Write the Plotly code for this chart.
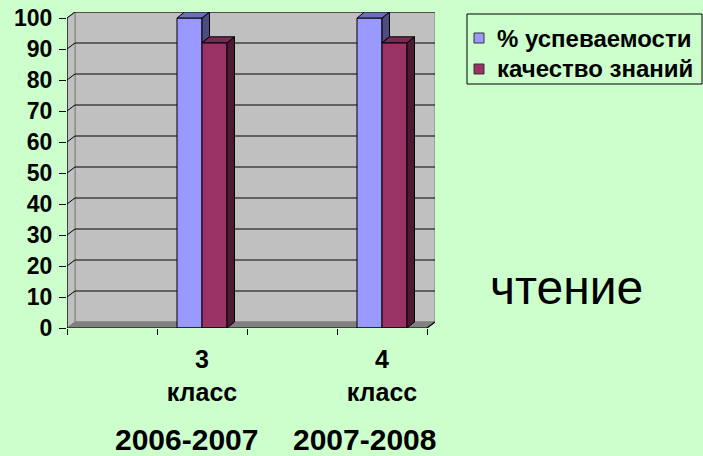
import plotly.graph_objects as go

# ---------------- data ----------------
categories = ["", "3<br>класс", "", "4<br>класс"]
uspevaemost = [None, 100, None, 100]
kachestvo = [None, 92, None, 92]
series_names = ["% успеваемости", "качество знаний"]
y_ticks = [0, 10, 20, 30, 40, 50, 60, 70, 80, 90, 100]
years = ["2006-2007", "2007-2008"]
subject = "чтение"

# ---------------- styling / geometry ----------------
W, H = 703, 456
ML, MT = 67, 12
PLOT_R, PLOT_B = 435, 328
PX_PER_CAT = 90.0
PX_PER_UNIT = 3.1
WALL_DX_PX, WALL_DY_PX = 8, 6
BAR_DX_PX, BAR_DY_PX = 7.5, 6
BAR_W_PX = 25

BG = "#CCFFCC"
WALL = "#C0C0C0"
FLOOR = "#808080"
BLUE, BLUE_TOP, BLUE_SIDE = "#9999FF", "#6B70B8", "#4D4D80"
RED, RED_TOP, RED_SIDE = "#993366", "#7A2952", "#4D1A33"
series_colors = [BLUE, RED]
FONT = "Liberation Sans, Arial, sans-serif"

wdx = WALL_DX_PX / PX_PER_CAT
wdy = WALL_DY_PX / PX_PER_UNIT
bdx = BAR_DX_PX / PX_PER_CAT
bdy = BAR_DY_PX / PX_PER_UNIT
bw = BAR_W_PX / PX_PER_CAT
n = len(categories)
x0a, x1a = -0.5, n - 0.5
ymax = max(y_ticks)

plot_w = PLOT_R - ML
plot_h = PLOT_B - MT


def px_to_paper_x(px):
    return (px - ML) / plot_w


def px_to_paper_y(py):
    return (PLOT_B - py) / plot_h


fig = go.Figure()

xs = list(range(n))
fig.add_trace(go.Bar(x=xs, y=uspevaemost, width=bw, offset=-bw, name=series_names[0],
                     showlegend=False,
                     marker=dict(color=BLUE, line=dict(color="#000000", width=1))))
fig.add_trace(go.Bar(x=xs, y=kachestvo, width=bw, offset=0, name=series_names[1],
                     showlegend=False,
                     marker=dict(color=RED, line=dict(color="#000000", width=1))))


def faces(values, offset, clip_values=None):
    tops_x, tops_y, sides_x, sides_y = [], [], [], []
    for i, v in enumerate(values):
        if v is None:
            continue
        xl = i + offset
        xr = xl + bw
        tops_x += [xl, xl + bdx, xr + bdx, xr, xl, None]
        tops_y += [v, v + bdy, v + bdy, v, v, None]
        lo = 0
        if clip_values is not None and clip_values[i] is not None:
            lo = min(clip_values[i], v)
        sides_x += [xr, xr, xr + bdx, xr + bdx, xr, None]
        sides_y += [v, lo, lo + bdy, v + bdy, v, None]
    return tops_x, tops_y, sides_x, sides_y


for vals, off, clip, ctop, cside in [
    (uspevaemost, -bw, kachestvo, BLUE_TOP, BLUE_SIDE),
    (kachestvo, 0, None, RED_TOP, RED_SIDE),
]:
    tx, ty, sx, sy = faces(vals, off, clip)
    fig.add_trace(go.Scatter(x=sx, y=sy, mode="lines", fill="toself", fillcolor=cside,
                             line=dict(color="#000000", width=1), showlegend=False,
                             hoverinfo="skip"))
    fig.add_trace(go.Scatter(x=tx, y=ty, mode="lines", fill="toself", fillcolor=ctop,
                             line=dict(color="#000000", width=1), showlegend=False,
                             hoverinfo="skip"))

shapes = []
# back wall
shapes.append(dict(type="rect", xref="x", yref="y", x0=x0a + wdx, x1=x1a + wdx, y0=wdy, y1=ymax + wdy,
                   fillcolor=WALL, line=dict(color="#808080", width=1), layer="below"))
# left wall
shapes.append(dict(type="path", xref="x", yref="y",
                   path=f"M {x0a},0 L {x0a + wdx},{wdy} L {x0a + wdx},{ymax + wdy} L {x0a},{ymax} Z",
                   fillcolor=WALL, line=dict(color="#808080", width=1), layer="below"))
# floor
shapes.append(dict(type="path", xref="x", yref="y",
                   path=f"M {x0a},0 L {x1a},0 L {x1a + wdx},{wdy} L {x0a + wdx},{wdy} Z",
                   fillcolor=FLOOR, line=dict(color="#808080", width=1), layer="below"))
# gridlines
for v in y_ticks[1:]:
    shapes.append(dict(type="path", xref="x", yref="y",
                       path=f"M {x0a},{v} L {x0a + wdx},{v + wdy} L {x1a + wdx},{v + wdy}",
                       line=dict(color="#000000", width=1), layer="below"))
# axis lines
shapes.append(dict(type="line", xref="x", yref="y", x0=x0a, x1=x0a, y0=0, y1=ymax,
                   line=dict(color="#000000", width=1.2), layer="above"))
shapes.append(dict(type="path", xref="x", yref="y",
                   path=f"M {x0a},0 L {x1a},0 L {x1a + wdx},{wdy}",
                   line=dict(color="#000000", width=1.2), layer="above"))

annotations = []

# ---- manual legend (box, swatches, text) ----
LEG_X0, LEG_X1, LEG_Y0, LEG_Y1 = 467, 702, 14, 84
shapes.append(dict(type="rect", xref="paper", yref="paper",
                   x0=px_to_paper_x(LEG_X0), x1=px_to_paper_x(LEG_X1),
                   y0=px_to_paper_y(LEG_Y1), y1=px_to_paper_y(LEG_Y0),
                   fillcolor=BG, line=dict(color="#000000", width=1), layer="above"))
row_centers = [38, 69]
for name, col, yc in zip(series_names, series_colors, row_centers):
    shapes.append(dict(type="rect", xref="paper", yref="paper",
                       x0=px_to_paper_x(474), x1=px_to_paper_x(484),
                       y0=px_to_paper_y(yc + 5), y1=px_to_paper_y(yc - 5),
                       fillcolor=col, line=dict(color="#333333", width=1), layer="above"))
    annotations.append(dict(text=name, xref="paper", yref="paper", x=px_to_paper_x(495),
                            y=px_to_paper_y(yc), xanchor="left", yanchor="middle",
                            showarrow=False,
                            font=dict(family=FONT, size=24, color="#000000", weight="bold")))

year_px = [186, 364]
for yr, xp in zip(years, year_px):
    annotations.append(dict(text=yr, xref="paper", yref="paper", x=px_to_paper_x(xp),
                            y=px_to_paper_y(439), xanchor="center", yanchor="middle",
                            showarrow=False, font=dict(family=FONT, size=30, color="#000000",
                                                       weight="bold")))
annotations.append(dict(text=subject, xref="paper", yref="paper", x=px_to_paper_x(566),
                        y=px_to_paper_y(287), xanchor="center", yanchor="middle",
                        showarrow=False, font=dict(family=FONT, size=48, color="#000000")))

fig.update_layout(
    width=W, height=H,
    margin=dict(l=ML, r=W - PLOT_R, t=MT, b=H - PLOT_B, pad=0),
    paper_bgcolor=BG, plot_bgcolor=BG,
    barmode="overlay",
    showlegend=False,
    shapes=shapes,
    annotations=annotations,
    xaxis=dict(range=[x0a, x1a + wdx], tickmode="array", tickvals=xs, ticktext=categories,
               ticks="outside", ticklen=0, showgrid=False, zeroline=False, showline=False,
               tickfont=dict(family=FONT, size=25, color="#000000", weight="bold"),
               ticklabelstandoff=9, automargin=False,
               minor=dict(tickmode="array", tickvals=[i + 0.5 for i in range(-1, n)],
                          ticks="outside", ticklen=6, tickcolor="#000000", tickwidth=1,
                          showgrid=False),
               fixedrange=True),
    yaxis=dict(range=[0, ymax + wdy], tickmode="array", tickvals=y_ticks,
               ticks="outside", ticklen=7, tickcolor="#000000", tickwidth=1,
               showgrid=False, zeroline=False, showline=False,
               tickfont=dict(family=FONT, size=23, color="#000000", weight="bold"),
               ticklabelstandoff=2, automargin=False, fixedrange=True),
)

fig.write_html("out.html", config={"displayModeBar": False},
               post_script="document.body.style.margin='0';document.body.style.overflow='hidden';")
